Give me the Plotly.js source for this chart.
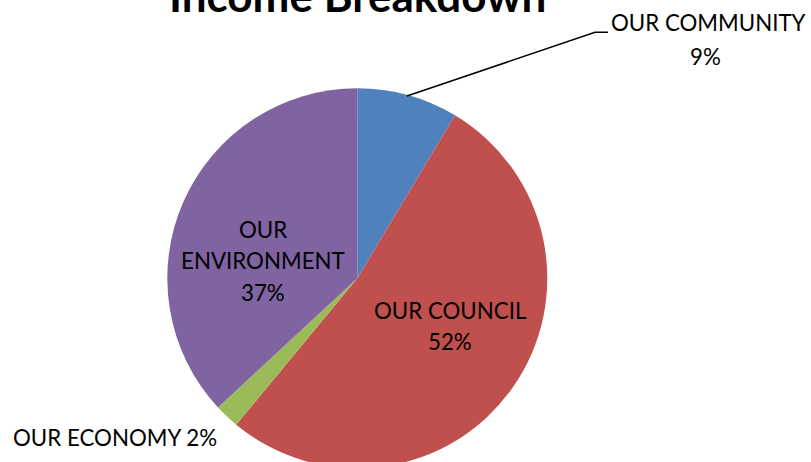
<!DOCTYPE html>
<html>
<head>
<meta charset="utf-8">
<script src="https://cdn.plot.ly/plotly-3.0.1.min.js"></script>
<style>
html, body { margin:0; padding:0; width:811px; height:462px; overflow:hidden; background:#fff; }
#chart { position:absolute; left:0; top:-20px; width:811px; height:500px; }
</style>
</head>
<body>
<div id="chart"></div>
<script>
// Data
const title = "Income Breakdown";
const categories = ["OUR COMMUNITY", "OUR COUNCIL", "OUR ECONOMY", "OUR ENVIRONMENT"];
const values = [8.6, 52.4, 2.1, 36.9];
const colors = ["#4F81BD", "#C0504D", "#9BBB59", "#8064A2"];

const W = 811, H = 500, OFF = 20;
const px = x => x / W;
const py = y => 1 - (y + OFF) / H;

const total = values.reduce((a, b) => a + b, 0);
const pct = values.map(v => Math.round(v / total * 100) + "%");

// pie geometry (window pixels)
const cx = 357.3, cy = 278.3, r = 190;

const trace = {
  type: "pie",
  labels: categories,
  values: values,
  sort: false,
  direction: "clockwise",
  rotation: 0,
  marker: { colors: colors, line: { width: 0 } },
  textinfo: "none",
  hoverinfo: "none",
  showlegend: false,
  domain: { x: [px(cx - r), px(cx + r)], y: [py(cy + r), py(cy - r)] }
};

const labelFont = { family: "Lato, 'Open Sans', sans-serif", size: 22.3, color: "#000" };
function ann(text, x, y, font) {
  return { text: text, x: px(x), y: py(y), xref: "paper", yref: "paper",
           xanchor: "center", yanchor: "middle", showarrow: false, font: font || labelFont };
}

const envWords = categories[3].split(" ");
const annotations = [
  ann(categories[0], 708.5, 23),
  ann(pct[0], 705.5, 56.5),
  ann(envWords[0], 263, 229.5),
  ann(envWords[1], 263, 260.5),
  ann(pct[3], 263, 292),
  ann(categories[1], 451, 310.5),
  ann(pct[1], 450, 341),
  ann(categories[2] + " " + pct[2], 115.5, 437),
  { text: "<b>" + title + "</b>", x: px(357.5), y: py(23), xref: "paper", yref: "paper",
    xanchor: "center", yanchor: "bottom", showarrow: false,
    font: { family: "Lato, 'Open Sans', sans-serif", size: 44, color: "#000" } }
];

const shapes = [{
  type: "path", xref: "paper", yref: "paper",
  path: "M " + px(407) + " " + py(96) + " L " + px(595) + " " + py(32.3) + " L " + px(608) + " " + py(32.3),
  line: { color: "#000", width: 1.5 }
}];

const layout = {
  width: W, height: H,
  margin: { l: 0, r: 0, t: 0, b: 0 },
  paper_bgcolor: "#fff",
  plot_bgcolor: "#fff",
  annotations: annotations,
  shapes: shapes
};

Plotly.newPlot("chart", [trace], layout, { staticPlot: true, displayModeBar: false });
</script>
</body>
</html>
